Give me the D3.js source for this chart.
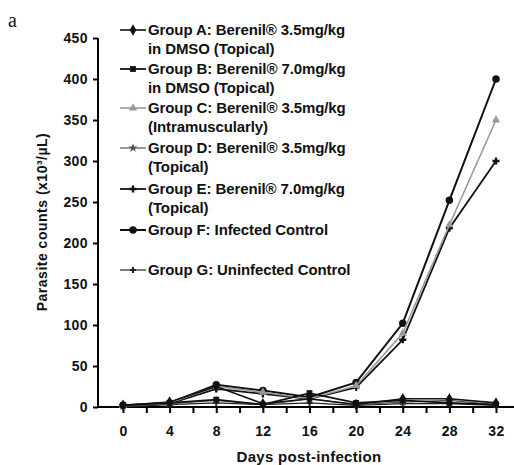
<!DOCTYPE html>
<html>
<head>
<meta charset="utf-8">
<script src="https://cdn.jsdelivr.net/npm/d3@7"></script>
<style>
	body { margin: 0; background: #fff; }
	svg text { font-family: "Liberation Sans", Arial, sans-serif; font-weight: bold; fill: #111; }
</style>
</head>
<body>
<svg id="chart" width="514" height="465"></svg>
<script>
// days post-infection
var days = [0, 4, 8, 12, 16, 20, 24, 28, 32];
var yTicks = [0, 50, 100, 150, 200, 250, 300, 350, 400, 450];

// parasite counts
var groupA = [2, 6, 25, 4, 10, 3, 10, 10, 5];
var groupB = [2, 5, 9, 3, 17, 5, 8, 5, 3];
var groupC = [2, 5, 25, 18, 10, 26, 90, 222, 350];
var groupD = [1, 4, 8, 3, 10, 3, 6, 8, 3];
var groupE = [2, 4, 22, 16, 10, 24, 82, 218, 300];
var groupF = [2, 5, 27, 20, 12, 30, 102, 252, 400];
var groupG = [0, 3, 5, 3, 5, 2, 4, 4, 2];

var legendLabels = [
	["Group A: Berenil® 3.5mg/kg", "in DMSO (Topical)"],
	["Group B: Berenil® 7.0mg/kg", "in DMSO (Topical)"],
	["Group C: Berenil® 3.5mg/kg", "(Intramuscularly)"],
	["Group D: Berenil® 3.5mg/kg", "(Topical)"],
	["Group E: Berenil® 7.0mg/kg", "(Topical)"],
	["Group F: Infected Control"],
	["Group G: Uninfected Control"]
];

var series = [
	{ values: groupA, color: "#111", marker: "diamond", width: 1.6 },
	{ values: groupB, color: "#111", marker: "square", width: 1.8 },
	{ values: groupC, color: "#999", marker: "triangle", width: 1.6 },
	{ values: groupD, color: "#555", marker: "star", width: 1.2 },
	{ values: groupE, color: "#111", marker: "cross", width: 1.8 },
	{ values: groupF, color: "#111", marker: "circle", width: 2 },
	{ values: groupG, color: "#222", marker: "plus", width: 1.2 }
];

var svg = d3.select('#chart');
var x = d3.scaleLinear().domain([0, 32]).range([123, 496]);
var y = d3.scaleLinear().domain([0, 450]).range([407, 38]);

var symbols = {
	diamond: d3.symbolDiamond,
	square: d3.symbolSquare,
	triangle: d3.symbolTriangle,
	star: d3.symbolStar,
	cross: d3.symbolCross,
	circle: d3.symbolCircle,
	plus: d3.symbolCross
};
var sizes = { diamond: 38, square: 34, triangle: 30, star: 26, cross: 28, circle: 44, plus: 20 };

// panel letter
svg.append('text')
	.attr('x', 8).attr('y', 27)
	.style('font-family', '"Liberation Serif", serif')
	.style('font-weight', 'normal')
	.style('font-size', '20px')
	.text('a');

// y axis
var yAxis = svg.append('g')
	.attr('transform', 'translate(98,0)')
	.call(d3.axisLeft(y).tickValues(yTicks).tickSize(5).tickPadding(5));
yAxis.select('.domain').attr('stroke-width', 2).attr('d', 'M0,' + y(450) + 'V' + y(0));
yAxis.selectAll('.tick line').attr('stroke-width', 2);
yAxis.selectAll('.tick text').style('font-size', '14px').attr('letter-spacing', '0.4');

// x axis
var xAxis = svg.append('g')
	.attr('transform', 'translate(0,' + y(0) + ')')
	.call(d3.axisBottom(x).tickValues(d3.range(0, 34, 2)).tickSize(6).tickPadding(13)
		.tickFormat(function(d) { return d % 4 === 0 ? d : ''; }));
xAxis.select('.domain').attr('stroke-width', 2).attr('d', 'M98,0H514');
xAxis.selectAll('.tick line').attr('stroke-width', 2);
xAxis.selectAll('.tick text').style('font-size', '14px').attr('letter-spacing', '0.4');

svg.append('text')
	.attr('x', 309).attr('y', 462)
	.attr('text-anchor', 'middle')
	.style('font-size', '15px')
	.attr('letter-spacing', '0.3')
	.text('Days post-infection');

svg.append('text')
	.attr('transform', 'translate(47,222) rotate(-90)')
	.attr('text-anchor', 'middle')
	.style('font-size', '14px')
	.attr('letter-spacing', '0.5')
	.text('Parasite counts (x10³/µL)');

// lines + markers
var line = d3.line()
	.x(function(d, i) { return x(days[i]); })
	.y(function(d) { return y(d); });

series.slice().reverse().forEach(function(s) {
	var g = svg.append('g');
	g.append('path')
		.attr('d', line(s.values))
		.attr('fill', 'none')
		.attr('stroke', s.color)
		.attr('stroke-width', s.width);
	g.selectAll('path.pt')
		.data(s.values).enter().append('path')
		.classed('pt', true)
		.attr('transform', function(d, i) { return 'translate(' + x(days[i]) + ',' + y(d) + ')'; })
		.attr('d', d3.symbol().type(symbols[s.marker]).size(sizes[s.marker]))
		.attr('fill', s.color);
});

// legend
var legendY = [30, 69, 108, 148, 189, 230, 270];
var legend = svg.append('g');
legendLabels.forEach(function(lines, i) {
	var s = series[i], ly = legendY[i];
	legend.append('line')
		.attr('x1', 120).attr('x2', 146)
		.attr('y1', ly).attr('y2', ly)
		.attr('stroke', s.color).attr('stroke-width', s.width);
	legend.append('path')
		.attr('transform', 'translate(133,' + ly + ')')
		.attr('d', d3.symbol().type(symbols[s.marker]).size(sizes[s.marker]))
		.attr('fill', s.color);
	lines.forEach(function(t, j) {
		legend.append('text')
			.attr('x', 148).attr('y', ly + 5 + j * 19)
			.style('font-size', '15px')
			.attr('letter-spacing', '-0.1')
			.text(t);
	});
});
</script>
</body>
</html>
